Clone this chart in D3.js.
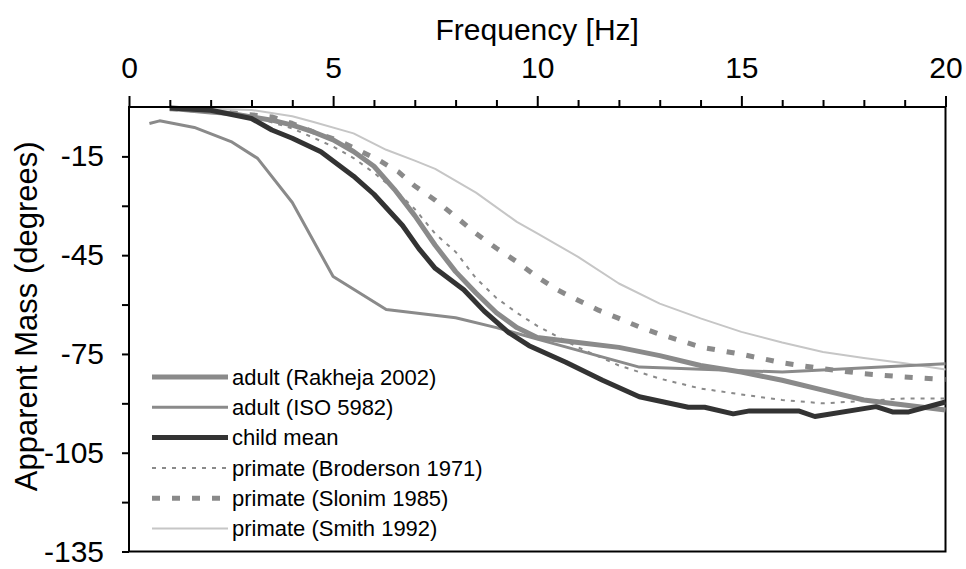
<!DOCTYPE html>
<html><head><meta charset="utf-8">
<script src="https://cdn.jsdelivr.net/npm/d3@7"></script>
<style>
body{margin:0;background:#fff}
svg{display:block}
text{font-family:"Liberation Sans",Arial,Helvetica,sans-serif;fill:#000}
</style>
</head><body>
<svg id="c" width="966" height="569"></svg>
<script>
// ---- data ----
const seriesNames = ["adult (Rakheja 2002)","adult (ISO 5982)","child mean","primate (Broderson 1971)","primate (Slonim 1985)","primate (Smith 1992)"];
const xTicksMajor = [0,5,10,15,20];
const xTicksMinor = [1,2,3,4,6,7,8,9,11,12,13,14,16,17,18,19];
const yTicksMajor = [-15,-45,-75,-105,-135];
const yTicksMinor = [-30,-60,-90,-120];

const rakhejaFreq = [1,2,2.5,3,3.5,4,4.5,5,5.5,6,6.5,7,7.5,8,8.5,9,9.5,10,11,12,13,14,15,16,17,18,19,20];
const rakhejaVal  = [-0.4,-1.5,-2,-3,-4,-5.5,-7.5,-10,-13.5,-18,-25,-33,-42,-50,-56.5,-62.5,-67,-70,-71.5,-73,-75.5,-78.5,-80.5,-83,-86,-89,-90.5,-92];

const isoFreq = [0.5,0.75,1.6,2.5,3.15,4,5,6.3,8,9,10,12.5,16,20];
const isoVal  = [-5,-4.2,-6.2,-10.5,-15.6,-29,-51.5,-61.5,-64,-67,-70.5,-79,-80.5,-78];

const childFreq = [1,2,3,3.5,4,4.7,5.5,6,6.7,7.1,7.5,8.2,8.7,9.3,9.8,10.7,11.6,12.5,13.7,14.1,14.8,15.2,16.4,16.8,18.3,18.7,19.1,20];
const childVal  = [-0.3,-1,-3.5,-7,-9.5,-13.6,-21,-26.5,-36,-43,-49,-55.5,-62,-68.5,-72.5,-77.5,-83,-88,-91.2,-91.2,-93.2,-92.3,-92.3,-94,-91,-92.6,-92.6,-89.6];

const brodersonFreq = [1,2,3,4,5,5.5,6,6.5,7,7.5,8,8.5,9,9.5,10,11,12,13,14,15,16,17,18,19,20];
const brodersonVal  = [-0.3,-1.2,-2.8,-6.5,-12,-15.5,-20,-25,-31,-38.5,-44,-52,-58,-62.5,-66.5,-73,-78.5,-82.5,-85.5,-87.3,-89,-90,-89.3,-88.5,-88.5];

const slonimFreq = [1,2,2.5,3.5,4,4.6,5.1,5.6,6.1,6.6,7,7.5,8,8.5,9,9.5,10,10.5,11,11.5,12,12.5,13,14,15,16,17,18,19,20];
const slonimVal  = [-0.5,-1.2,-1.8,-3,-5,-8,-10,-13,-16,-19.7,-24,-28.3,-33.3,-38.4,-42.9,-47,-51.6,-55.6,-58.7,-61.7,-64.2,-66.8,-69,-72.9,-75.1,-77.7,-79.5,-81,-82,-82.8];

const smithFreq = [1,2,3,4,4.5,5.5,6.3,7,7.5,8.5,9.5,10,11,12,13,14,15,16,17,18,19,20];
const smithVal  = [-0.3,-0.5,-0.9,-2.8,-4.5,-8,-13,-16.3,-18.8,-26,-34.9,-38.4,-45.5,-53.6,-59.7,-64.2,-68.3,-71.5,-74.4,-76.2,-77.8,-79.7];

// ---- styles ----
const styles = [
  {color:"#8a8a8a", width:5, dash:null},
  {color:"#8a8a8a", width:3, dash:null},
  {color:"#333333", width:5, dash:null},
  {color:"#8a8a8a", width:2, dash:"4,6"},
  {color:"#8a8a8a", width:5, dash:"8,12"},
  {color:"#c6c6c6", width:2, dash:null}
];
const seriesData = [
  [rakhejaFreq, rakhejaVal],
  [isoFreq, isoVal],
  [childFreq, childVal],
  [brodersonFreq, brodersonVal],
  [slonimFreq, slonimVal],
  [smithFreq, smithVal]
];

const svg = d3.select("#c");
const L = 129, R = 945.5, T = 107, B = 551.5;
const x = d3.scaleLinear().domain([0,20]).range([L,R]);
const y = d3.scaleLinear().domain([0,-135]).range([T,B]);

// frame (right & bottom)
svg.append("rect").attr("x",L).attr("y",T).attr("width",R-L).attr("height",B-T)
  .attr("fill","none").attr("stroke","#000").attr("stroke-width",2);

// lines
const line = d3.line().x(d=>x(d[0])).y(d=>y(d[1])).curve(d3.curveLinear);
const order = [5,4,3,1,0,2];
order.forEach(i=>{
  const [f,v] = seriesData[i];
  const pts = f.map((ff,k)=>[ff,v[k]]);
  const s = styles[i];
  svg.append("path").datum(pts).attr("d",line)
    .attr("fill","none").attr("stroke",s.color).attr("stroke-width",s.width)
    .attr("stroke-linejoin","round")
    .attr("stroke-dasharray",s.dash);
});

// axes
const fontSize = 30;
const xMinor = svg.append("g").attr("transform",`translate(0,${T})`)
  .call(d3.axisTop(x).tickValues(xTicksMinor).tickSize(7).tickFormat(""));
const xMajor = svg.append("g").attr("transform",`translate(0,${T})`)
  .call(d3.axisTop(x).tickValues(xTicksMajor).tickSize(11).tickPadding(18).tickFormat(d3.format("d")));
const yMinor = svg.append("g").attr("transform",`translate(${L},0)`)
  .call(d3.axisLeft(y).tickValues(yTicksMinor).tickSize(7).tickFormat(""));
const yMajor = svg.append("g").attr("transform",`translate(${L},0)`)
  .call(d3.axisLeft(y).tickValues(yTicksMajor).tickSize(7).tickPadding(18).tickFormat(d=>String(d)));
[xMinor,xMajor,yMinor,yMajor].forEach(g=>{
  g.selectAll(".domain").attr("stroke","#000").attr("stroke-width",2);
  g.selectAll(".tick line").attr("stroke","#000").attr("stroke-width",2);
  g.selectAll("text").attr("font-size",fontSize).attr("font-family","Liberation Sans, Arial, sans-serif").attr("fill","#000");
});
xMajor.select(".domain").remove(); yMajor.select(".domain").remove();
xMinor.select(".domain").attr("d",`M${L},0H${R}`);
yMinor.select(".domain").attr("d",`M0,${T}V${B}`);

// titles
svg.append("text").attr("x",(L+R)/2).attr("y",40).attr("text-anchor","middle")
  .attr("font-size",30).text("Frequency [Hz]");
svg.append("text").attr("transform",`translate(37,${(T+B)/2 - 13}) rotate(-90)`)
  .attr("text-anchor","middle").attr("font-size",31).text("Apparent Mass (degrees)");

// legend
const legX0 = 152, legX1 = 228, legY0 = 377, legDy = 30.3;
seriesNames.forEach((name,i)=>{
  const s = styles[i];
  const yy = legY0 + i*legDy;
  svg.append("line").attr("x1",legX0).attr("x2",legX1).attr("y1",yy).attr("y2",yy)
    .attr("stroke",s.color).attr("stroke-width",s.width).attr("stroke-dasharray",s.dash);
  svg.append("text").attr("x",legX1+4).attr("y",yy).attr("dy","0.35em")
    .attr("font-size",22).text(name);
});
</script>
</body></html>
